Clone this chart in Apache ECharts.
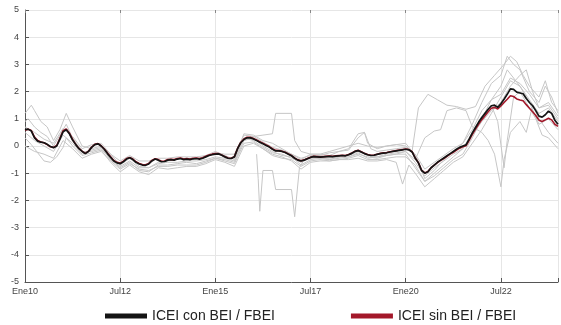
<!DOCTYPE html>
<html>
<head>
<meta charset="utf-8">
<script src="https://cdn.jsdelivr.net/npm/echarts@6.0.0/dist/echarts.min.js"></script>
<style>
  html, body { margin: 0; padding: 0; background: #fff; }
  #chart { width: 561px; height: 325px; }
</style>
</head>
<body>
<div id="chart"></div>
<script>
// x = months since Ene10; one tick every 30 months
const tickLabels = ['Ene10', 'Jul12', 'Ene15', 'Jul17', 'Ene20', 'Jul22'];
const seriesNames = ['ICEI con BEI / FBEI', 'ICEI sin BEI / FBEI'];

// monthly values, Ene10 .. Ene24
const iceiCon = [
  0.60, 0.62, 0.55, 0.30, 0.18, 0.14, 0.12, 0.06, -0.02, -0.06,
  0.00, 0.25, 0.52, 0.60, 0.45, 0.22, 0.05, -0.10, -0.20, -0.28,
  -0.20, -0.05, 0.05, 0.08, 0.00, -0.12, -0.28, -0.42, -0.55, -0.62,
  -0.65, -0.58, -0.48, -0.43, -0.50, -0.60, -0.66, -0.70, -0.71, -0.66,
  -0.55, -0.48, -0.52, -0.58, -0.57, -0.52, -0.50, -0.52, -0.48, -0.46,
  -0.50, -0.48, -0.50, -0.47, -0.46, -0.48, -0.45, -0.40, -0.35, -0.32,
  -0.30, -0.29, -0.34, -0.40, -0.45, -0.46, -0.40, -0.10, 0.12, 0.24,
  0.30, 0.30, 0.26, 0.20, 0.14, 0.08, 0.02, -0.04, -0.12, -0.18,
  -0.18, -0.20, -0.24, -0.30, -0.36, -0.45, -0.52, -0.55, -0.52, -0.47,
  -0.42, -0.39, -0.40, -0.41, -0.40, -0.39, -0.38, -0.39, -0.37, -0.36,
  -0.35, -0.36, -0.32, -0.27, -0.20, -0.17, -0.22, -0.28, -0.32, -0.35,
  -0.34, -0.31, -0.28, -0.26, -0.25, -0.22, -0.20, -0.18, -0.16, -0.14,
  -0.12, -0.14, -0.22, -0.45, -0.62, -0.90, -1.00, -0.95, -0.80, -0.70,
  -0.60, -0.52, -0.44, -0.36, -0.28, -0.20, -0.12, -0.05, 0.00, 0.04,
  0.25, 0.48, 0.68, 0.88, 1.05, 1.20, 1.35, 1.48, 1.50, 1.42,
  1.55, 1.72, 1.90, 2.10, 2.08, 1.98, 1.95, 1.92, 1.75, 1.60,
  1.48, 1.30, 1.10, 1.06, 1.15, 1.28, 1.20, 0.95, 0.80
];

const iceiSin = [
  0.58, 0.62, 0.57, 0.33, 0.20, 0.15, 0.12, 0.05, -0.03, -0.05,
  0.02, 0.28, 0.56, 0.63, 0.47, 0.24, 0.06, -0.09, -0.19, -0.27,
  -0.19, -0.04, 0.06, 0.09, 0.01, -0.11, -0.26, -0.40, -0.53, -0.60,
  -0.63, -0.56, -0.46, -0.42, -0.48, -0.58, -0.64, -0.68, -0.69, -0.64,
  -0.53, -0.47, -0.50, -0.56, -0.55, -0.50, -0.49, -0.50, -0.46, -0.44,
  -0.48, -0.46, -0.48, -0.45, -0.44, -0.46, -0.43, -0.38, -0.33, -0.30,
  -0.28, -0.28, -0.33, -0.39, -0.44, -0.45, -0.39, -0.09, 0.13, 0.26,
  0.32, 0.32, 0.28, 0.22, 0.16, 0.10, 0.04, -0.02, -0.10, -0.16,
  -0.17, -0.19, -0.23, -0.29, -0.35, -0.44, -0.51, -0.54, -0.51, -0.46,
  -0.41, -0.38, -0.39, -0.40, -0.39, -0.38, -0.37, -0.38, -0.36, -0.35,
  -0.34, -0.35, -0.31, -0.26, -0.19, -0.16, -0.21, -0.27, -0.31, -0.34,
  -0.33, -0.30, -0.27, -0.25, -0.24, -0.21, -0.19, -0.17, -0.15, -0.13,
  -0.11, -0.13, -0.21, -0.44, -0.61, -0.89, -0.99, -0.94, -0.80, -0.70,
  -0.61, -0.53, -0.46, -0.38, -0.30, -0.23, -0.15, -0.08, -0.03, 0.01,
  0.21, 0.43, 0.62, 0.81, 0.97, 1.11, 1.26, 1.39, 1.42, 1.36,
  1.47, 1.60, 1.72, 1.85, 1.82, 1.73, 1.69, 1.66, 1.52, 1.39,
  1.26, 1.12, 0.95, 0.90, 0.96, 1.02, 0.96, 0.80, 0.72
];

// individual indicators (grey), [month, value]
const grayA = [[0,1.2],[2,1.5],[3,1.3],[5,0.9],[7,0.7],[9,0.2],[11,0.6],[13,1.2],[15,0.7],[18,0.0],[21,-0.1],[24,0.0],[27,-0.3],[30,-0.7],[33,-0.45],[36,-0.75],[39,-0.8],[42,-0.6],[45,-0.55],[48,-0.5],[51,-0.45],[54,-0.5],[57,-0.35],[60,-0.2],[63,-0.35],[66,-0.5],[69,0.45],[72,0.4],[75,0.2],[78,0.1],[81,-0.1],[84,-0.3],[87,-0.5],[90,-0.3],[93,-0.3],[96,-0.35],[99,-0.2],[102,-0.1],[105,0.45],[107,0.5],[108,0.1],[111,-0.1],[114,0.0],[117,0.05],[120,0.0],[123,-0.3],[126,-1.2],[129,-0.9],[132,-0.5],[135,-0.2],[138,0.1],[141,0.8],[144,1.6],[147,2.3],[150,2.6],[152,3.3],[154,3.0],[156,2.8],[159,2.0],[162,1.6],[164,2.2],[166,1.8],[168,1.2]];
const grayB = [[0,0.9],[1,1.0],[3,0.7],[5,0.5],[7,0.35],[9,0.0],[11,0.4],[13,0.8],[15,0.3],[18,-0.2],[21,-0.2],[24,-0.1],[27,-0.5],[30,-0.8],[33,-0.6],[36,-0.9],[39,-0.95],[42,-0.7],[45,-0.7],[48,-0.65],[51,-0.6],[54,-0.65],[57,-0.55],[60,-0.45],[63,-0.5],[66,-0.6],[69,0.2],[72,0.3],[75,0.0],[78,-0.2],[81,-0.35],[84,-0.4],[87,-0.7],[90,-0.5],[93,-0.45],[96,-0.5],[99,-0.45],[102,-0.4],[105,-0.3],[108,-0.4],[111,-0.45],[114,-0.35],[117,-0.3],[120,-0.3],[123,-0.8],[126,-1.3],[129,-1.1],[132,-0.8],[135,-0.5],[138,-0.3],[141,0.3],[144,1.0],[147,1.7],[150,2.2],[152,2.8],[154,2.5],[156,2.2],[159,1.7],[162,1.2],[165,1.4],[168,0.9]];
const grayC = [[0,0.3],[2,0.05],[4,-0.25],[6,-0.55],[8,-0.6],[10,-0.4],[12,-0.05],[13,0.3],[15,0.0],[18,-0.35],[21,-0.25],[24,-0.15],[27,-0.6],[30,-0.95],[33,-0.7],[36,-0.95],[39,-1.05],[42,-0.8],[45,-0.85],[48,-0.8],[51,-0.75],[54,-0.75],[57,-0.65],[60,-0.5],[63,-0.6],[66,-0.75],[69,0.0],[72,0.1],[75,-0.1],[78,-0.3],[81,-0.4],[84,-0.55],[87,-0.85],[90,-0.6],[93,-0.55],[96,-0.55],[99,-0.5],[102,-0.5],[105,-0.45],[108,-0.55],[111,-0.55],[114,-0.5],[117,-0.6],[119,-1.4],[121,-0.7],[123,-1.0],[126,-1.5],[129,-1.2],[132,-0.9],[135,-0.6],[138,-0.4],[141,0.1],[144,0.6],[147,1.2],[150,1.8],[153,2.4],[156,2.2],[159,1.6],[162,0.8],[165,1.0],[168,0.6]];
const grayD = [[0,0.7],[3,0.5],[6,0.25],[9,0.1],[12,0.65],[15,0.35],[18,-0.1],[21,0.05],[24,0.1],[27,-0.3],[30,-0.55],[33,-0.35],[36,-0.55],[39,-0.55],[42,-0.45],[45,-0.45],[48,-0.4],[51,-0.4],[54,-0.4],[57,-0.35],[60,-0.25],[63,-0.3],[66,-0.3],[69,0.4],[72,0.35],[75,0.15],[78,-0.05],[81,-0.15],[84,-0.3],[87,-0.45],[90,-0.35],[93,-0.35],[96,-0.25],[99,-0.2],[102,-0.15],[105,0.3],[107,0.5],[109,-0.1],[111,-0.2],[114,-0.15],[117,-0.1],[120,-0.05],[123,-0.3],[126,-0.85],[129,-0.6],[132,-0.35],[135,-0.1],[138,0.1],[141,0.6],[144,1.3],[147,1.7],[150,1.9],[153,2.5],[156,2.3],[159,1.9],[162,1.4],[165,1.6],[168,1.1]];
const grayE = [[73,-0.3],[73.5,-1.2],[74,-2.4],[75,-0.9],[78,-0.9],[79,-1.6],[84,-1.6],[85,-2.6],[86.5,-0.8],[88,-0.5],[90,-0.4],[93,-0.45],[96,-0.5],[99,-0.4],[102,-0.35],[105,-0.2],[108,-0.35],[111,-0.4],[114,-0.3],[117,-0.25],[120,-0.2],[123,-0.6],[126,-1.1],[129,-0.8],[132,-0.55],[135,-0.3],[138,-0.1],[141,0.4],[144,0.9],[147,1.3],[150,1.6],[153,2.2],[156,2.6],[158,2.8],[160,2.0],[162,1.4],[165,1.5],[168,1.0]];
const grayF = [[70,0.3],[72,0.35],[75,0.4],[78,0.45],[79,1.2],[84,1.2],[85,0.2],[87,-0.2],[90,-0.3],[93,-0.3],[96,-0.2],[99,-0.1],[102,0.0],[105,0.1],[108,0.0],[111,-0.05],[114,0.0],[117,0.05],[120,0.1],[122,-0.2],[124,1.4],[127,1.9],[130,1.7],[133,1.5],[136,1.45],[139,1.35],[142,1.45],[145,2.2],[148,2.6],[151,3.0],[153,3.3],[155,3.1],[157,2.6],[159,2.2],[162,1.8],[164,2.4],[166,1.6],[168,1.3]];
const grayG = [[0,0.5],[3,0.2],[6,0.0],[9,-0.2],[12,0.4],[15,0.1],[18,-0.3],[21,-0.15],[24,-0.05],[27,-0.5],[30,-0.75],[33,-0.55],[36,-0.8],[39,-0.8],[42,-0.65],[45,-0.6],[48,-0.6],[51,-0.55],[54,-0.55],[57,-0.5],[60,-0.4],[63,-0.45],[66,-0.55],[69,0.3],[72,0.2],[75,-0.05],[78,-0.25],[81,-0.3],[84,-0.45],[87,-0.6],[90,-0.45],[93,-0.45],[96,-0.45],[99,-0.4],[102,-0.4],[105,-0.25],[108,-0.45],[111,-0.4],[114,-0.35],[117,-0.3],[120,-0.2],[123,-0.5],[126,0.3],[129,0.55],[131,0.6],[133,1.3],[136,1.4],[139,1.3],[141,0.7],[144,0.5],[146,0.2],[148,-0.3],[150,-1.5],[151,-0.5],[153,0.5],[156,0.9],[158,0.5],[160,1.5],[162,1.0],[165,0.5],[168,0.1]];
const grayH = [[0,0.0],[3,-0.2],[6,-0.3],[9,-0.45],[12,0.2],[15,-0.1],[18,-0.45],[21,-0.3],[24,-0.2],[27,-0.55],[30,-0.85],[33,-0.65],[36,-0.85],[39,-0.9],[42,-0.75],[45,-0.75],[48,-0.7],[51,-0.7],[54,-0.7],[57,-0.6],[60,-0.45],[63,-0.55],[66,-0.65],[69,0.1],[72,0.15],[75,-0.1],[78,-0.35],[81,-0.45],[84,-0.5],[87,-0.75],[90,-0.55],[93,-0.5],[96,-0.55],[99,-0.5],[102,-0.45],[105,-0.35],[108,-0.5],[111,-0.5],[114,-0.45],[117,-0.4],[120,-0.4],[123,-0.7],[126,-1.3],[129,-1.0],[132,-0.7],[135,-0.4],[138,-0.1],[141,0.5],[144,1.1],[147,1.5],[149,0.9],[151,-0.8],[152,0.2],[154,1.8],[156,2.0],[158,1.6],[161,1.0],[163,0.4],[165,0.3],[168,-0.1]];

const grayLines = [grayA, grayB, grayC, grayD, grayE, grayF, grayG, grayH];

const chart = echarts.init(document.getElementById('chart'), null, { renderer: 'canvas' });
const font = 'Liberation Sans, Arial, sans-serif';

const series = grayLines.map((d, i) => ({
  name: 'ind' + i,
  type: 'line',
  data: d,
  showSymbol: false,
  silent: true,
  lineStyle: { color: '#c6c6c6', width: 1 },
  z: 1,
}));
series.push({
  name: seriesNames[1],
  type: 'line',
  data: iceiSin.map((v, i) => [i, v]),
  showSymbol: false,
  lineStyle: { color: '#a3182a', width: 1.6 },
  itemStyle: { color: '#a3182a' },
  z: 3,
});
series.push({
  name: seriesNames[0],
  type: 'line',
  data: iceiCon.map((v, i) => [i, v]),
  showSymbol: false,
  lineStyle: { color: '#141414', width: 1.7 },
  itemStyle: { color: '#141414' },
  z: 4,
});

chart.setOption({
  animation: false,
  grid: { left: 25, right: 1, top: 10, bottom: 43 },
  legend: {
    data: [
      { name: seriesNames[0], icon: 'rect' },
      { name: seriesNames[1], icon: 'rect' },
    ],
    left: 100,
    top: 304,
    itemWidth: 42,
    itemHeight: 5,
    itemGap: 76,
    textStyle: { fontSize: 14, color: '#222', fontFamily: font },
  },
  xAxis: [
    {
      type: 'value',
      min: 0,
      max: 168,
      interval: 30,
      axisLine: { onZero: false, lineStyle: { color: '#555', width: 1 } },
      axisTick: { inside: true, length: 4, lineStyle: { color: '#555' } },
      axisLabel: {
        fontSize: 9,
        color: '#444',
        fontFamily: font,
        margin: 5,
        formatter: (v) => (v % 30 === 0 ? tickLabels[v / 30] : ''),
      },
      splitLine: { show: true, lineStyle: { color: '#e6e6e6' } },
    },
    {
      type: 'value',
      position: 'top',
      min: 0,
      max: 168,
      interval: 30,
      axisLine: { show: false, onZero: false },
      axisTick: { inside: true, length: 3, lineStyle: { color: '#888' } },
      axisLabel: { show: false },
      splitLine: { show: false },
    },
  ],
  yAxis: {
    type: 'value',
    min: -5,
    max: 5,
    interval: 1,
    axisLine: { show: true, onZero: false, lineStyle: { color: '#555', width: 1 } },
    axisTick: { show: true, inside: true, length: 4, lineStyle: { color: '#555' } },
    axisLabel: { fontSize: 9, color: '#444', fontFamily: font, margin: 6 },
    splitLine: { lineStyle: { color: '#e6e6e6' } },
  },
  series: series,
});
</script>
</body>
</html>
